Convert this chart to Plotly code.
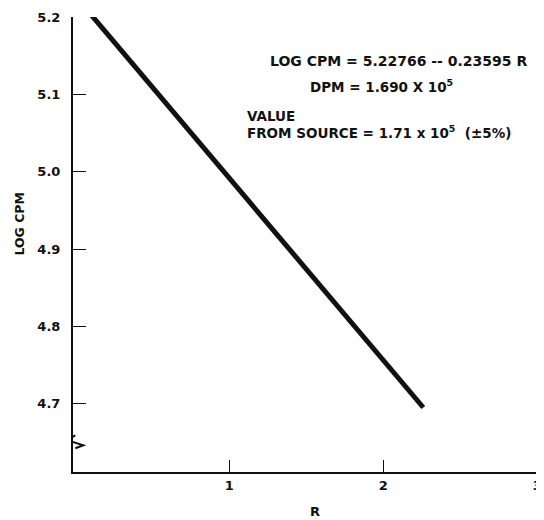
import plotly.graph_objects as go

# Data
r_vals = [0.10, 2.26]
logcpm_vals = [5.204, 4.695]
y_ticks = [4.7, 4.8, 4.9, 5.0, 5.1, 5.2]
y_tick_labels = ["4.7", "4.8", "4.9", "5.0", "5.1", "5.2"]
x_ticks = [1, 2, 3]
x_tick_labels = ["1", "2", "3"]

FONT = "DejaVu Sans"
BLACK = "#111111"

fig = go.Figure()
fig.add_trace(go.Scatter(
    x=r_vals, y=logcpm_vals, mode="lines",
    line=dict(color=BLACK, width=5), showlegend=False, hoverinfo="skip",
    cliponaxis=False,
))

# page body has an 8px margin, so the figure is 8px smaller on each axis
fig.update_layout(
    width=536, height=512,
    margin=dict(l=65, r=2, t=6, b=48),
    paper_bgcolor="white", plot_bgcolor="white",
    font=dict(family=FONT, size=12, color=BLACK),
    xaxis=dict(
        range=[-0.015, 3.005], showgrid=False, zeroline=False,
        showline=True, linecolor=BLACK, linewidth=2,
        ticks="inside", ticklen=12, tickwidth=1, tickcolor=BLACK,
        tickvals=x_ticks, ticktext=x_tick_labels,
        tickfont=dict(family=FONT, size=13, color=BLACK, weight="bold"),
        ticklabelstandoff=0, ticklabeloverflow="allow",
    ),
    yaxis=dict(
        range=[4.6115, 5.2005], showgrid=False, zeroline=False,
        showline=True, linecolor=BLACK, linewidth=2,
        ticks="inside", ticklen=13, tickwidth=1, tickcolor=BLACK,
        tickvals=y_ticks, ticktext=y_tick_labels,
        tickfont=dict(family=FONT, size=13, color=BLACK, weight="bold"),
        ticklabelstandoff=8, ticklabeloverflow="allow",
    ),
)

# axis break zigzag on y axis: white gap then the zigzag
fig.add_shape(
    type="path", xref="x", yref="y",
    xsizemode="pixel", ysizemode="pixel", xanchor=0, yanchor=4.65,
    path="M 0,7 L 0,-6",
    line=dict(color="white", width=4),
)
fig.add_shape(
    type="path", xref="x", yref="y",
    xsizemode="pixel", ysizemode="pixel", xanchor=0, yanchor=4.65,
    path="M 0,7 L -8,2 L 8,-3 L 0,-6",
    line=dict(color=BLACK, width=2),
)

ann_font = dict(family=FONT, size=13.5, color=BLACK, weight="bold")
fig.add_annotation(x=2.10, y=5.1436, xref="x", yref="y", showarrow=False,
                   text="LOG CPM = 5.22766 -- 0.23595 R",
                   font=dict(family=FONT, size=14, color=BLACK, weight="bold"), xanchor="center")
fig.add_annotation(x=1.99, y=5.111, xref="x", yref="y", showarrow=False,
                   text="DPM = 1.690 X 10<sup>5</sup>", font=ann_font, xanchor="center")
fig.add_annotation(x=1.10, y=5.0718, xref="x", yref="y", showarrow=False,
                   text="VALUE", font=ann_font, xanchor="left")
fig.add_annotation(x=1.10, y=5.051, xref="x", yref="y", showarrow=False,
                   text="FROM SOURCE = 1.71 x 10<sup>5</sup>  (±5%)", font=ann_font, xanchor="left")

# axis titles
fig.add_annotation(x=-0.117, y=0.545, xref="paper", yref="paper", showarrow=False,
                   xanchor="center", yanchor="middle",
                   text="LOG CPM", textangle=-90, font=dict(family=FONT, size=12.5, color=BLACK, weight="bold"))
fig.add_annotation(x=0.52, y=-0.087, xref="paper", yref="paper", showarrow=False,
                   xanchor="center", yanchor="middle",
                   text="R", font=dict(family=FONT, size=13, color=BLACK, weight="bold"))

fig.write_html("out.html")
